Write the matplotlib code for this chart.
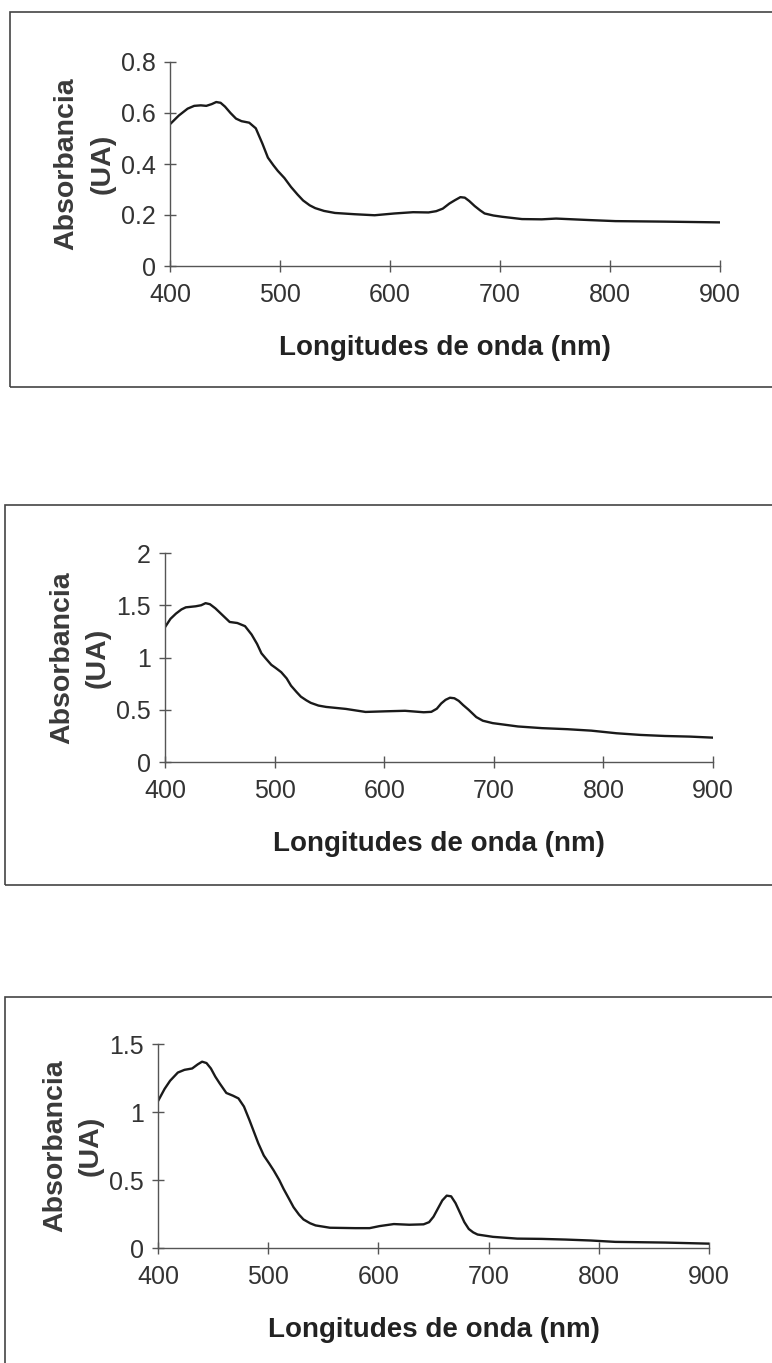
import matplotlib.pyplot as plt
from matplotlib.patches import Rectangle

plt.rcParams['font.family'] = ['Liberation Sans', 'DejaVu Sans']

# Panel 1 spectrum
wl1 = [400, 408, 416, 422, 428, 433, 438, 442, 446, 450, 455, 460, 465, 472, 478, 484,
       489, 494, 498, 504, 510, 516, 521, 527, 532, 540, 550, 568, 586, 604, 621, 635,
       642, 648, 654, 659, 664, 668, 672, 677, 682, 686, 694, 702, 720, 738, 751, 782,
       805, 850, 900]
abs1 = [0.556, 0.590, 0.617, 0.628, 0.630, 0.628, 0.635, 0.643, 0.640, 0.625, 0.600, 0.578,
        0.568, 0.562, 0.540, 0.480, 0.425, 0.395, 0.373, 0.345, 0.310, 0.280, 0.257, 0.238,
        0.227, 0.216, 0.208, 0.203, 0.199, 0.206, 0.211, 0.210, 0.215, 0.225, 0.245, 0.258,
        0.270, 0.268, 0.255, 0.235, 0.218, 0.206, 0.198, 0.193, 0.184, 0.183, 0.186, 0.180,
        0.176, 0.174, 0.171]

# Panel 2 spectrum
wl2 = [400, 405, 410, 415, 419, 428, 433, 437, 441, 446, 452, 459, 466, 473, 479, 484,
       488, 492, 497, 501, 506, 511, 515, 520, 524, 529, 533, 540, 547, 565, 583, 601,
       619, 636, 643, 648, 652, 656, 660, 664, 668, 672, 677, 684, 690, 699, 722, 744,
       767, 789, 812, 834, 856, 879, 900]
abs2 = [1.29, 1.37, 1.42, 1.46, 1.48, 1.49, 1.50, 1.52, 1.51, 1.47, 1.41, 1.34, 1.33, 1.30,
        1.22, 1.13, 1.04, 0.99, 0.93, 0.90, 0.86, 0.80, 0.73, 0.67, 0.625, 0.59, 0.566,
        0.540, 0.527, 0.508, 0.479, 0.485, 0.490, 0.476, 0.480, 0.510, 0.56, 0.595, 0.615,
        0.610, 0.585, 0.545, 0.500, 0.430, 0.395, 0.372, 0.340, 0.324, 0.314, 0.300, 0.275,
        0.259, 0.249, 0.243, 0.233]

# Panel 3 spectrum
wl3 = [400, 406, 411, 418, 424, 431, 436, 440, 444, 448, 452, 456, 462, 468, 473, 478,
       483, 487, 491, 496, 501, 505, 510, 514, 519, 523, 528, 532, 538, 543, 556, 579,
       592, 601, 614, 628, 641, 646, 650, 654, 658, 662, 666, 670, 674, 678, 682, 686,
       690, 704, 726, 748, 770, 793, 815, 860, 900]
abs3 = [1.08, 1.17, 1.23, 1.29, 1.31, 1.32, 1.35, 1.37, 1.36, 1.32, 1.26, 1.21, 1.14, 1.12,
        1.10, 1.04, 0.94, 0.855, 0.77, 0.68, 0.62, 0.57, 0.50, 0.434, 0.36, 0.30, 0.245,
        0.21, 0.182, 0.166, 0.149, 0.146, 0.146, 0.161, 0.176, 0.171, 0.174, 0.19, 0.23,
        0.29, 0.35, 0.385, 0.38, 0.33, 0.26, 0.19, 0.14, 0.115, 0.099, 0.082, 0.069, 0.067,
        0.062, 0.055, 0.045, 0.040, 0.032]

x_ticks = [400, 500, 600, 700, 800, 900]
y_ticks1 = [0, 0.2, 0.4, 0.6, 0.8]
y_ticks2 = [0, 0.5, 1, 1.5, 2]
y_ticks3 = [0, 0.5, 1, 1.5]

W, H = 772, 1363
fig = plt.figure(figsize=(W / 100, H / 100), dpi=100)

# outer frames (pixel boxes: left, top, bottom)
frames = [(10, 12, 387), (5, 505, 885), (5, 997, 1400)]
for left, top, bottom in frames:
    fig.patches.append(Rectangle((left / W, 1 - bottom / H), (W + 20 - left) / W,
                                 (bottom - top) / H, transform=fig.transFigure,
                                 fill=False, edgecolor='#444444', linewidth=1.2))

# axes boxes in pixels: left, right, y of zero, y of top tick
boxes = [(170, 720, 266, 62), (165, 713, 762, 553), (158, 709, 1248, 1044)]
series = [(wl1, abs1, y_ticks1), (wl2, abs2, y_ticks2), (wl3, abs3, y_ticks3)]

for (l, r, y0, yt), (wl, ab, yt_list) in zip(boxes, series):
    ax = fig.add_axes([l / W, 1 - y0 / H, (r - l) / W, (y0 - yt) / H])
    ax.plot(wl, ab, color='#1a1a1a', linewidth=1.7)
    ax.set_xlim(400, 900)
    ax.set_ylim(0, yt_list[-1])
    ax.set_xticks(x_ticks)
    ax.set_yticks(yt_list)
    ax.set_yticklabels([f'{v:g}' for v in yt_list])
    for s in ['top', 'right']:
        ax.spines[s].set_visible(False)
    for s in ['left', 'bottom']:
        ax.spines[s].set_color('#555555')
        ax.spines[s].set_linewidth(1.0)
    ax.tick_params(axis='x', direction='inout', length=9, width=1, color='#555555',
                   labelsize=18, labelcolor='#333333', pad=8)
    ax.tick_params(axis='y', direction='inout', length=8, width=1, color='#555555',
                   labelsize=18, labelcolor='#333333', pad=6)
    ax.set_xlabel('Longitudes de onda (nm)', fontsize=20, fontweight='bold',
                  color='#222222', labelpad=20)
    ax.set_ylabel('Absorbancia\n(UA)', fontsize=20.5, fontweight='bold',
                  color='#3a3a3a', labelpad=4, linespacing=1.5)

fig.savefig('out.png', dpi=100)
